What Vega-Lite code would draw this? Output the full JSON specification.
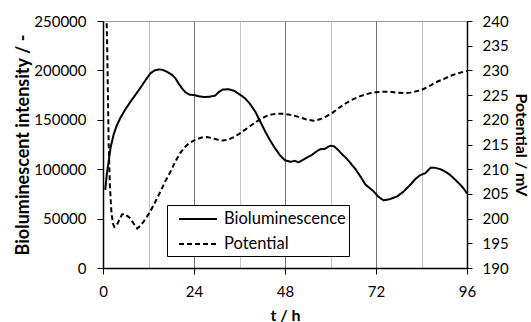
{
  "$schema": "https://vega.github.io/schema/vega-lite/v6.json",
  "width": 364,
  "height": 247,
  "autosize": "none",
  "padding": {"left": 103, "top": 21, "right": 64, "bottom": 54},
  "background": "white",
  "config": {
    "font": "Lato",
    "view": {"stroke": "#9a9a9a", "strokeWidth": 1},
    "axis": {
      "labelFont": "Lato",
      "titleFont": "Lato",
      "labelFontSize": 15,
      "titleFontSize": 16,
      "titleFontWeight": "bold",
      "labelColor": "black",
      "titleColor": "black",
      "domainColor": "black",
      "domainWidth": 1.5,
      "tickColor": "black",
      "tickWidth": 1
    }
  },
  "data": {
    "values": [
      {"s": "Bioluminescence", "t": 0.6, "v": 79000},
      {"s": "Bioluminescence", "t": 1.0, "v": 95000},
      {"s": "Bioluminescence", "t": 1.5, "v": 108000},
      {"s": "Bioluminescence", "t": 2.0, "v": 122000},
      {"s": "Bioluminescence", "t": 2.8, "v": 135000},
      {"s": "Bioluminescence", "t": 3.6, "v": 144000},
      {"s": "Bioluminescence", "t": 4.6, "v": 152000},
      {"s": "Bioluminescence", "t": 5.8, "v": 160000},
      {"s": "Bioluminescence", "t": 7.2, "v": 168000},
      {"s": "Bioluminescence", "t": 8.5, "v": 175000},
      {"s": "Bioluminescence", "t": 9.8, "v": 182000},
      {"s": "Bioluminescence", "t": 11.2, "v": 190000},
      {"s": "Bioluminescence", "t": 12.5, "v": 197000},
      {"s": "Bioluminescence", "t": 13.6, "v": 200000},
      {"s": "Bioluminescence", "t": 14.7, "v": 201000},
      {"s": "Bioluminescence", "t": 15.8, "v": 200500},
      {"s": "Bioluminescence", "t": 16.9, "v": 198500},
      {"s": "Bioluminescence", "t": 18.2, "v": 195500},
      {"s": "Bioluminescence", "t": 19.1, "v": 192000},
      {"s": "Bioluminescence", "t": 19.9, "v": 187000},
      {"s": "Bioluminescence", "t": 20.8, "v": 182000},
      {"s": "Bioluminescence", "t": 21.7, "v": 178000},
      {"s": "Bioluminescence", "t": 22.8, "v": 175500},
      {"s": "Bioluminescence", "t": 24.0, "v": 175000},
      {"s": "Bioluminescence", "t": 25.7, "v": 173500},
      {"s": "Bioluminescence", "t": 27.0, "v": 173000},
      {"s": "Bioluminescence", "t": 28.3, "v": 173500},
      {"s": "Bioluminescence", "t": 29.6, "v": 174500},
      {"s": "Bioluminescence", "t": 30.5, "v": 178000},
      {"s": "Bioluminescence", "t": 31.5, "v": 180500},
      {"s": "Bioluminescence", "t": 33.0, "v": 181000},
      {"s": "Bioluminescence", "t": 34.5, "v": 179500},
      {"s": "Bioluminescence", "t": 35.5, "v": 177000},
      {"s": "Bioluminescence", "t": 36.5, "v": 174500},
      {"s": "Bioluminescence", "t": 37.5, "v": 171500},
      {"s": "Bioluminescence", "t": 38.8, "v": 166000},
      {"s": "Bioluminescence", "t": 40.2, "v": 158000},
      {"s": "Bioluminescence", "t": 41.5, "v": 148000},
      {"s": "Bioluminescence", "t": 42.8, "v": 138000},
      {"s": "Bioluminescence", "t": 44.1, "v": 129000},
      {"s": "Bioluminescence", "t": 45.4, "v": 121000},
      {"s": "Bioluminescence", "t": 46.7, "v": 114000},
      {"s": "Bioluminescence", "t": 48.0, "v": 109000},
      {"s": "Bioluminescence", "t": 49.5, "v": 107500},
      {"s": "Bioluminescence", "t": 50.5, "v": 108500},
      {"s": "Bioluminescence", "t": 51.6, "v": 107000},
      {"s": "Bioluminescence", "t": 53.0, "v": 110000},
      {"s": "Bioluminescence", "t": 55.1, "v": 114500},
      {"s": "Bioluminescence", "t": 56.5, "v": 118500},
      {"s": "Bioluminescence", "t": 57.5, "v": 120500},
      {"s": "Bioluminescence", "t": 58.5, "v": 120500},
      {"s": "Bioluminescence", "t": 59.3, "v": 122500},
      {"s": "Bioluminescence", "t": 60.0, "v": 123800},
      {"s": "Bioluminescence", "t": 61.0, "v": 123000},
      {"s": "Bioluminescence", "t": 62.0, "v": 119500},
      {"s": "Bioluminescence", "t": 63.1, "v": 115000},
      {"s": "Bioluminescence", "t": 64.2, "v": 111000},
      {"s": "Bioluminescence", "t": 65.2, "v": 106500},
      {"s": "Bioluminescence", "t": 66.6, "v": 100000},
      {"s": "Bioluminescence", "t": 68.0, "v": 92000},
      {"s": "Bioluminescence", "t": 69.2, "v": 84500},
      {"s": "Bioluminescence", "t": 70.3, "v": 81000},
      {"s": "Bioluminescence", "t": 71.4, "v": 77500},
      {"s": "Bioluminescence", "t": 72.5, "v": 72500},
      {"s": "Bioluminescence", "t": 74.0, "v": 68500},
      {"s": "Bioluminescence", "t": 75.5, "v": 69500},
      {"s": "Bioluminescence", "t": 77.6, "v": 72500},
      {"s": "Bioluminescence", "t": 79.3, "v": 77500},
      {"s": "Bioluminescence", "t": 81.1, "v": 84500},
      {"s": "Bioluminescence", "t": 82.5, "v": 90500},
      {"s": "Bioluminescence", "t": 83.7, "v": 94000},
      {"s": "Bioluminescence", "t": 85.0, "v": 96000},
      {"s": "Bioluminescence", "t": 86.4, "v": 101500},
      {"s": "Bioluminescence", "t": 87.5, "v": 101500},
      {"s": "Bioluminescence", "t": 89.0, "v": 100000},
      {"s": "Bioluminescence", "t": 90.5, "v": 97000},
      {"s": "Bioluminescence", "t": 91.6, "v": 94000},
      {"s": "Bioluminescence", "t": 93.0, "v": 89000},
      {"s": "Bioluminescence", "t": 94.3, "v": 84000},
      {"s": "Bioluminescence", "t": 95.2, "v": 80000},
      {"s": "Bioluminescence", "t": 96.0, "v": 75500},
      {"s": "Potential", "t": 0.8, "v": 246},
      {"s": "Potential", "t": 1.1, "v": 235},
      {"s": "Potential", "t": 1.5, "v": 215},
      {"s": "Potential", "t": 1.8, "v": 207},
      {"s": "Potential", "t": 2.2, "v": 201.5},
      {"s": "Potential", "t": 2.6, "v": 199},
      {"s": "Potential", "t": 3.0, "v": 198.3},
      {"s": "Potential", "t": 3.6, "v": 198.6},
      {"s": "Potential", "t": 4.2, "v": 199.6},
      {"s": "Potential", "t": 5.0, "v": 200.8},
      {"s": "Potential", "t": 5.6, "v": 201},
      {"s": "Potential", "t": 6.3, "v": 200.6},
      {"s": "Potential", "t": 7.0, "v": 200.2},
      {"s": "Potential", "t": 8.0, "v": 199.1},
      {"s": "Potential", "t": 9.0, "v": 198.0},
      {"s": "Potential", "t": 9.8, "v": 198.5},
      {"s": "Potential", "t": 10.7, "v": 199.4},
      {"s": "Potential", "t": 11.6, "v": 200.4},
      {"s": "Potential", "t": 12.5, "v": 201.5},
      {"s": "Potential", "t": 13.8, "v": 203.4},
      {"s": "Potential", "t": 15.1, "v": 205.4},
      {"s": "Potential", "t": 16.4, "v": 207.5},
      {"s": "Potential", "t": 17.8, "v": 209.5},
      {"s": "Potential", "t": 19.1, "v": 211.6},
      {"s": "Potential", "t": 20.4, "v": 213.3},
      {"s": "Potential", "t": 21.5, "v": 214.4},
      {"s": "Potential", "t": 22.6, "v": 215.2},
      {"s": "Potential", "t": 23.7, "v": 215.7},
      {"s": "Potential", "t": 24.8, "v": 216.1},
      {"s": "Potential", "t": 26.0, "v": 216.4},
      {"s": "Potential", "t": 27.4, "v": 216.5},
      {"s": "Potential", "t": 28.7, "v": 216.3},
      {"s": "Potential", "t": 30.1, "v": 216.0},
      {"s": "Potential", "t": 31.5, "v": 215.8},
      {"s": "Potential", "t": 33.1, "v": 216.0},
      {"s": "Potential", "t": 34.5, "v": 216.5},
      {"s": "Potential", "t": 35.8, "v": 217.1},
      {"s": "Potential", "t": 37.5, "v": 218.0},
      {"s": "Potential", "t": 39.3, "v": 219.0},
      {"s": "Potential", "t": 40.6, "v": 219.7},
      {"s": "Potential", "t": 41.9, "v": 220.3},
      {"s": "Potential", "t": 43.2, "v": 220.8},
      {"s": "Potential", "t": 44.6, "v": 221.1},
      {"s": "Potential", "t": 46.2, "v": 221.2},
      {"s": "Potential", "t": 47.8, "v": 221.2},
      {"s": "Potential", "t": 49.5, "v": 221.0},
      {"s": "Potential", "t": 51.6, "v": 220.6},
      {"s": "Potential", "t": 53.5, "v": 220.1},
      {"s": "Potential", "t": 55.6, "v": 219.8},
      {"s": "Potential", "t": 57.2, "v": 220.1},
      {"s": "Potential", "t": 58.7, "v": 220.6},
      {"s": "Potential", "t": 60.5, "v": 221.4},
      {"s": "Potential", "t": 62.2, "v": 222.4},
      {"s": "Potential", "t": 64.0, "v": 223.3},
      {"s": "Potential", "t": 65.5, "v": 224.0},
      {"s": "Potential", "t": 67.9, "v": 224.8},
      {"s": "Potential", "t": 70.0, "v": 225.3},
      {"s": "Potential", "t": 72.0, "v": 225.6},
      {"s": "Potential", "t": 74.0, "v": 225.7},
      {"s": "Potential", "t": 75.8, "v": 225.7},
      {"s": "Potential", "t": 77.5, "v": 225.5},
      {"s": "Potential", "t": 79.3, "v": 225.4},
      {"s": "Potential", "t": 81.0, "v": 225.5},
      {"s": "Potential", "t": 83.9, "v": 226.0},
      {"s": "Potential", "t": 86.0, "v": 226.8},
      {"s": "Potential", "t": 88.1, "v": 227.7},
      {"s": "Potential", "t": 90.0, "v": 228.3},
      {"s": "Potential", "t": 91.6, "v": 228.9},
      {"s": "Potential", "t": 94.0, "v": 229.5},
      {"s": "Potential", "t": 96.0, "v": 229.9}
    ]
  },
  "encoding": {
    "x": {
      "field": "t",
      "type": "quantitative",
      "scale": {"domain": [0, 96], "nice": false, "zero": false},
      "axis": {
        "title": "t / h",
        "values": [0, 12, 24, 36, 48, 60, 72, 84, 96],
        "labelExpr": "datum.value % 24 === 0 ? datum.label : ''",
        "grid": true,
        "gridColor": {"condition": {"test": "datum.value % 24 === 0", "value": "#707070"}, "value": "#c4c4c4"},
        "gridWidth": 1,
        "tickColor": {"condition": {"test": "datum.value % 24 === 0", "value": "black"}, "value": "transparent"},
        "tickSize": 6,
        "labelPadding": 10,
        "titlePadding": 8,
        "labelFlush": false
      }
    }
  },
  "layer": [
    {
      "transform": [{"filter": "datum.s === 'Bioluminescence'"}],
      "mark": {"type": "line", "color": "black", "strokeWidth": 2, "clip": true},
      "encoding": {
        "y": {
          "field": "v",
          "type": "quantitative",
          "scale": {"domain": [0, 250000], "nice": false},
          "axis": {
            "orient": "left",
            "title": "Bioluminescent intensity / -",
            "titleFontSize": 18,
            "values": [0, 50000, 100000, 150000, 200000, 250000],
            "format": "d",
            "grid": false,
            "tickSize": 6,
            "labelPadding": 11,
            "titlePadding": 1
          }
        },
        "strokeDash": {
          "field": "s",
          "type": "nominal",
          "scale": {"domain": ["Bioluminescence", "Potential"], "range": [[1, 0], [5, 3]]},
          "legend": {
            "title": null,
            "orient": "none",
            "legendX": 64,
            "legendY": 184,
            "strokeColor": "black",
            "fillColor": "white",
            "padding": 3,
            "labelFont": "Lato",
            "labelFontSize": 16.5,
            "labelColor": "black",
            "symbolType": "M-1.9,0H1.9",
            "symbolSize": 400,
            "symbolStrokeWidth": 2,
            "symbolStrokeColor": "black",
            "symbolOffset": 17,
            "rowPadding": 5,
            "labelOffset": 15
          }
        }
      }
    },
    {
      "transform": [{"filter": "datum.s === 'Potential'"}],
      "mark": {"type": "line", "color": "black", "strokeWidth": 2, "clip": true},
      "encoding": {
        "y": {
          "field": "v",
          "type": "quantitative",
          "scale": {"domain": [190, 240], "nice": false, "zero": false},
          "axis": {
            "orient": "right",
            "title": "Potential / mV",
            "values": [190, 195, 200, 205, 210, 215, 220, 225, 230, 235, 240],
            "grid": false,
            "tickSize": 5,
            "labelPadding": 10,
            "titlePadding": 4
          }
        },
        "strokeDash": {"field": "s", "type": "nominal"}
      }
    }
  ],
  "resolve": {"scale": {"y": "independent"}, "axis": {"y": "independent"}}
}
